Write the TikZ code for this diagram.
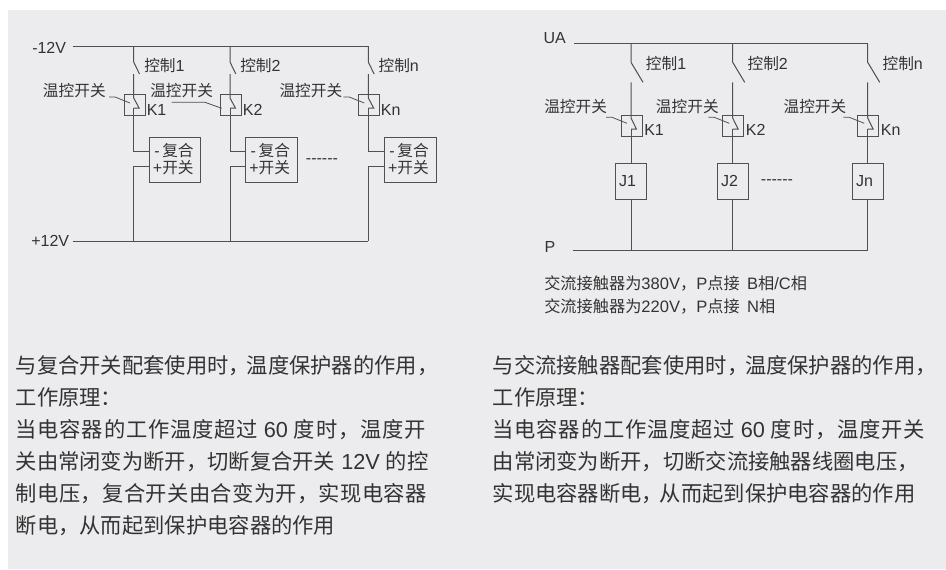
\documentclass[tikz,border=0pt]{standalone}
\usepackage{fontspec}
\setmainfont{Liberation Sans}
\newfontfamily\cjk{Noto Sans CJK SC}[Scale=0.98]
\newfontfamily\cjkwide{Noto Sans CJK SC}[Scale=0.98,LetterSpace=3.6]
\newfontfamily\cjkmid{Noto Sans CJK SC}[Scale=0.98,LetterSpace=1.7]
\newcommand{\zh}[1]{{\cjk #1}}
\newcommand{\zw}[1]{{\cjkwide #1}}
\newcommand{\zm}[1]{{\cjkmid #1}}
\newcommand{\cma}{\zh{，}\kern-2.5pt }
\definecolor{bgc}{HTML}{ECECEE}
\definecolor{ink}{HTML}{505050}
\definecolor{txtc}{HTML}{333333}
\tikzset{
  x=0.75pt,y=-0.75pt,
  wire/.style={draw=ink,line width=0.75pt},
  boxw/.style={draw=ink,line width=0.75pt,inner sep=0pt,outer sep=0pt,text=txtc,font=\fontsize{12pt}{12.75pt}\selectfont},
  lab/.style={text=txtc,font=\fontsize{12pt}{14pt}\selectfont,inner sep=0pt,anchor=west},
  notelab/.style={lab,font=\fontsize{12.4pt}{14pt}\selectfont},
  para/.style={text=txtc,font=\fontsize{16.3pt}{24pt}\selectfont,inner sep=0pt,anchor=north west,align=left},
}
% box by its corners: name, x1, y1, x2, y2, text
\newcommand{\pbox}[6]{%
  \node[boxw,minimum width={(#4-#2)*0.75pt},minimum height={(#5-#3)*0.75pt},align=right] (#1) at ({(#2+#4)/2},{(#3+#5)/2}) {#6};}
% one leg down to the temperature switch: n, x, bus y, a, b, dx, c, d
\newcommand{\legtop}[8]{%
  \coordinate (ca#1) at (#2,#4);
  \coordinate (cb#1) at (#2+#6,#5);
  \coordinate (cc#1) at (#2,#5);
  \coordinate (ta#1) at (#2,#7);
  \coordinate (tb#1) at (#2+5.4,#8);
  \coordinate (tc#1) at (#2,#8);
  \draw[wire] (bus#1) -- (ca#1) -- (cb#1);
  \draw[wire] (cc#1) -- (ta#1) -- (tb#1) -- (tc#1);
}
\newcommand{\leader}[4]{% n, x, y1, y2
  \coordinate (la#1) at (#2,#3);
  \coordinate (lb#1) at (#2+6,#3);
  \coordinate (lc#1) at (#2+21,#4);
  \draw[wire,line width=0.6pt] (la#1) -- (lb#1) -- (lc#1);
}
\newcommand{\dashrun}{-{}-{}-{}-{}-{}-}
\begin{document}
\begin{tikzpicture}
\useasboundingbox (0,0) rectangle (946,569);
\fill[white] (0,0) rectangle (946,569);
\fill[bgc] (8,10) rectangle (946,569);

% ===== left circuit =====
\node[lab] (lminus) at (32,47.5) {-12V};
\node[lab] (lplus) at (31,241) {+12V};
\coordinate (busLs) at (73,46);
\coordinate (busLe) at (368.3,46);
\coordinate (busPs) at (73,241);
\coordinate (busPe) at (368.3,241);
\coordinate (busl1) at (133.7,46);
\coordinate (busl2) at (230,46);
\draw[wire] (busLs) -- (busLe);
\draw[wire] (busPs) -- (busPe);
\coordinate (busl3) at (368.3,46);

\pbox{Sl1}{124.3}{94.7}{145}{115.7}{}
\pbox{Sl2}{220.3}{94.7}{241}{115.7}{}
\pbox{Sl3}{358.3}{94.7}{379}{115.7}{}
\pbox{Bl1}{149.3}{137}{200.7}{182}{-\,\zh{复合}\hspace*{2.6pt}\\+\zh{开关}\hspace*{2.6pt}}
\pbox{Bl2}{245.7}{137}{297}{182}{-\,\zh{复合}\hspace*{2.6pt}\\+\zh{开关}\hspace*{2.6pt}}
\pbox{Bl3}{384.3}{137}{436}{182}{-\,\zh{复合}\hspace*{2.6pt}\\+\zh{开关}\hspace*{2.6pt}}

\legtop{l1}{133.7}{46}{62}{74}{5.8}{98}{108}
\legtop{l2}{230}{46}{62}{74}{5.8}{98}{108}
\legtop{l3}{368.3}{46}{62}{74}{5.8}{98}{108}

\foreach \n/\x in {1/133.7,2/230,3/368.3}{
  \coordinate (mb\n) at (\x,151);
  \coordinate (pb\n) at (\x,166.3);
  \coordinate (pe\n) at (\x,241);
  \draw[wire] (tcl\n) -- (mb\n) -- (Bl\n.west |- mb\n);
  \draw[wire] (Bl\n.west |- pb\n) -- (pb\n) -- (pe\n);
}

\node[lab] at (144,65.3) {\zh{控制}1};
\node[lab] at (240,65.3) {\zh{控制}2};
\node[lab] at (378.3,65.3) {\zh{控制}n};
\node[lab] at (42.7,90.7) {\zh{温控开关}};
\node[lab] at (150,90.7) {\zh{温控开关}};
\node[lab] at (279.3,90.7) {\zh{温控开关}};
\node[lab] at (146.5,109.5) {K1};
\node[lab] at (242.7,109.5) {K2};
\node[lab] at (380.7,109.5) {Kn};
\leader{l1}{109}{97}{103}
\coordinate (lal2) at (171.7,102.3);
\coordinate (lbl2) at (205,102.3);
\coordinate (lcl2) at (221.7,108.3);
\draw[wire,line width=0.6pt] (lal2) -- (lbl2) -- (lcl2);
\leader{l3}{343.3}{97}{103}
\node[lab] at (305.7,160.8) {\dashrun};

% ===== right circuit =====
\node[lab] (lua) at (543.3,38.3) {UA};
\node[lab] (lp) at (544.3,247.3) {P};
\coordinate (busAs) at (574.3,43.7);
\coordinate (busAe) at (867.7,43.7);
\coordinate (busBs) at (572.7,250);
\coordinate (busBe) at (867.7,250);
\draw[wire] (busAs) -- (busAe);
\draw[wire] (busBs) -- (busBe);
\coordinate (busr1) at (631,43.7);
\coordinate (busr2) at (732.7,43.7);
\coordinate (busr3) at (867.7,43.7);

\pbox{Sr1}{621}{115}{642}{136.3}{}
\pbox{Sr2}{722.7}{115}{743.7}{136.3}{}
\pbox{Sr3}{857.7}{115}{878.7}{136.3}{}
\pbox{J1}{615.3}{163.7}{646.7}{199}{J1\hspace*{5pt}}
\pbox{J2}{717.3}{163.7}{748.3}{199}{J2\hspace*{5pt}}
\pbox{J3}{852.3}{163.7}{883.3}{199}{Jn\hspace*{5pt}}

\legtop{r1}{631}{43.7}{62.3}{82.3}{12}{118}{129}
\legtop{r2}{732.7}{43.7}{62.3}{82.3}{12}{118}{129}
\legtop{r3}{867.7}{43.7}{62.3}{82.3}{12}{118}{129}

\foreach \n/\x in {1/631,2/732.7,3/867.7}{
  \coordinate (je\n) at (\x,250);
  \draw[wire] (tcr\n) -- (J\n.north -| tcr\n);
  \draw[wire] (J\n.south -| tcr\n) -- (je\n);
}

\node[lab] at (645.7,64) {\zh{控制}1};
\node[lab] at (747.3,64) {\zh{控制}2};
\node[lab] at (882.3,64) {\zh{控制}n};
\node[lab] at (544,106.7) {\zh{温控开关}};
\node[lab] at (655.7,106.7) {\zh{温控开关}};
\node[lab] at (783.3,106.7) {\zh{温控开关}};
\node[lab] at (644,129.5) {K1};
\node[lab] at (745.7,129.5) {K2};
\node[lab] at (880.7,129.5) {Kn};
\leader{r1}{606}{117.3}{123.3}
\leader{r2}{708.3}{117.3}{123.3}
\leader{r3}{843.3}{117.3}{123.3}
\node[lab] at (760.7,182.1) {\dashrun};

\node[notelab] at (544,283.3) {\zh{交流接触器为}380V\zh{，}P\zh{点接} \,B\zh{相}/C\zh{相}};
\node[notelab] at (544,306.7) {\zh{交流接触器为}220V\zh{，}P\zh{点接} \,N\zh{相}};

% ===== paragraphs =====
\node[para] at (15.5,355) {\zh{与复合开关配套使用时}\cma\zh{温度保护器的作用，}\\
\zh{工作原理：}\\
\zw{当电容器的工作温度超过} 60 \zw{度时，温度开}\\
\zh{关由常闭变为断开，切断复合开关} 12V \zh{的控}\\
\zm{制电压，复合开关由合变为开，实现电容器}\\
\zh{断电，从而起到保护电容器的作用}};
\node[para] at (492.5,355) {\zh{与交流接触器配套使用时}\cma\zh{温度保护器的作用，}\\
\zh{工作原理：}\\
\zw{当电容器的工作温度超过} 60 \zw{度时，温度开关}\\
\zh{由常闭变为断开，切断交流接触器线圈电压，}\\
\zh{实现电容器断电}\cma\zh{从而起到保护电容器的作用}};
\end{tikzpicture}
\end{document}
